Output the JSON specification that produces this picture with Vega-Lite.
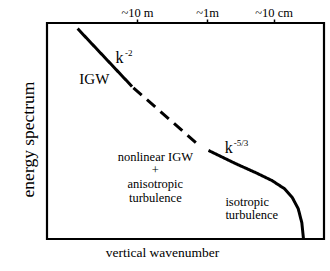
{
  "$schema": "https://vega.github.io/schema/vega-lite/v6.json",
  "width": 277,
  "height": 216,
  "autosize": {"type": "none"},
  "padding": {"left": 47, "top": 23, "right": 6, "bottom": 32},
  "background": "white",
  "config": {
    "font": "Liberation Serif",
    "view": {"stroke": "black", "strokeWidth": 2.2},
    "text": {"font": "Liberation Serif", "color": "black"}
  },
  "datasets": {
    "curve": [
      {"seg": "A", "style": "solid", "x": 11.05, "y": 97.4},
      {"seg": "A", "style": "solid", "x": 30.7, "y": 70.6},
      {"seg": "B", "style": "dashed", "x": 31.2, "y": 70.0},
      {"seg": "B", "style": "dashed", "x": 55.3, "y": 42.9},
      {"seg": "C", "style": "solid", "x": 58.3, "y": 41.0},
      {"seg": "C", "style": "solid", "x": 68.0, "y": 34.95},
      {"seg": "C", "style": "solid", "x": 75.2, "y": 30.8},
      {"seg": "C", "style": "solid", "x": 81.3, "y": 27.0},
      {"seg": "C", "style": "solid", "x": 85.7, "y": 23.3},
      {"seg": "C", "style": "solid", "x": 88.6, "y": 19.1},
      {"seg": "C", "style": "solid", "x": 90.7, "y": 14.0},
      {"seg": "C", "style": "solid", "x": 92.0, "y": 7.5},
      {"seg": "C", "style": "solid", "x": 92.6, "y": 0}
    ],
    "k": [
      {"t": "k", "x": 26.2, "y": 83.7},
      {"t": "k", "x": 65.6, "y": 42.3}
    ],
    "sup": [
      {"t": "-2", "x": 29.5, "y": 86.0},
      {"t": "-5/3", "x": 70.0, "y": 44.3}
    ],
    "igw": [
      {"t": "IGW", "x": 17.1, "y": 74.1}
    ],
    "mid": [
      {"t": "nonlinear IGW", "x": 39.1, "y": 37.8},
      {"t": "+", "x": 39.1, "y": 31.9},
      {"t": "anisotropic", "x": 39.1, "y": 25.6},
      {"t": "turbulence", "x": 39.1, "y": 19.1}
    ],
    "iso": [
      {"t": "isotropic", "x": 64.4, "y": 17.3},
      {"t": "turbulence", "x": 64.4, "y": 11.2}
    ]
  },
  "resolve": {"axis": {"x": "independent", "y": "independent"}},
  "layer": [
    {
      "data": {"name": "curve"},
      "mark": {"type": "line", "color": "black", "strokeWidth": 3, "clip": true},
      "encoding": {
        "x": {
          "field": "x", "type": "quantitative",
          "scale": {"domain": [0, 100]},
          "axis": {
            "orient": "top", "values": [32.5, 57.8, 81.8],
            "labelExpr": "datum.value < 40 ? '~10 m' : (datum.value < 70 ? '~1m' : '~10 cm')",
            "labelFont": "Liberation Serif", "labelFontSize": 12.5, "labelColor": "black",
            "labelPadding": 0, "tickSize": 4, "tickColor": "black", "tickWidth": 1.5,
            "domain": false, "grid": false, "title": null
          }
        },
        "y": {
          "field": "y", "type": "quantitative",
          "scale": {"domain": [0, 100]},
          "axis": {
            "title": "energy spectrum", "labels": false, "ticks": false, "domain": false, "grid": false,
            "titleFont": "Liberation Serif", "titleFontSize": 17.5, "titleFontWeight": "normal", "titleColor": "black",
            "titleX": -19, "titleY": 116, "titleBaseline": "middle", "titleAngle": -90
          }
        },
        "detail": {"field": "seg"},
        "strokeDash": {
          "field": "style", "type": "nominal",
          "scale": {"domain": ["solid", "dashed"], "range": [[1, 0], [11, 7]]},
          "legend": null
        }
      }
    },
    {
      "data": {"name": "k"},
      "mark": {"type": "text", "fontSize": 16, "baseline": "middle", "align": "center"},
      "encoding": {
        "x": {
          "field": "x", "type": "quantitative", "scale": {"domain": [0, 100]},
          "axis": {
            "orient": "bottom", "title": "vertical wavenumber", "labels": false, "ticks": false, "domain": false, "grid": false,
            "titleFont": "Liberation Serif", "titleFontSize": 13.5, "titleFontWeight": "normal", "titleColor": "black",
            "titleX": 115, "titleY": 17, "titleBaseline": "alphabetic"
          }
        },
        "y": {"field": "y", "type": "quantitative", "scale": {"domain": [0, 100]}, "axis": null},
        "text": {"field": "t"}
      }
    },
    {
      "data": {"name": "sup"},
      "mark": {"type": "text", "fontSize": 9, "baseline": "middle", "align": "center"},
      "encoding": {
        "x": {"field": "x", "type": "quantitative", "scale": {"domain": [0, 100]}, "axis": null},
        "y": {"field": "y", "type": "quantitative", "scale": {"domain": [0, 100]}, "axis": null},
        "text": {"field": "t"}
      }
    },
    {
      "data": {"name": "igw"},
      "mark": {"type": "text", "fontSize": 15, "baseline": "middle", "align": "center"},
      "encoding": {
        "x": {"field": "x", "type": "quantitative", "scale": {"domain": [0, 100]}, "axis": null},
        "y": {"field": "y", "type": "quantitative", "scale": {"domain": [0, 100]}, "axis": null},
        "text": {"field": "t"}
      }
    },
    {
      "data": {"name": "mid"},
      "mark": {"type": "text", "fontSize": 12.5, "baseline": "middle", "align": "center"},
      "encoding": {
        "x": {"field": "x", "type": "quantitative", "scale": {"domain": [0, 100]}, "axis": null},
        "y": {"field": "y", "type": "quantitative", "scale": {"domain": [0, 100]}, "axis": null},
        "text": {"field": "t"}
      }
    },
    {
      "data": {"name": "iso"},
      "mark": {"type": "text", "fontSize": 12.5, "baseline": "middle", "align": "left"},
      "encoding": {
        "x": {"field": "x", "type": "quantitative", "scale": {"domain": [0, 100]}, "axis": null},
        "y": {"field": "y", "type": "quantitative", "scale": {"domain": [0, 100]}, "axis": null},
        "text": {"field": "t"}
      }
    }
  ]
}
